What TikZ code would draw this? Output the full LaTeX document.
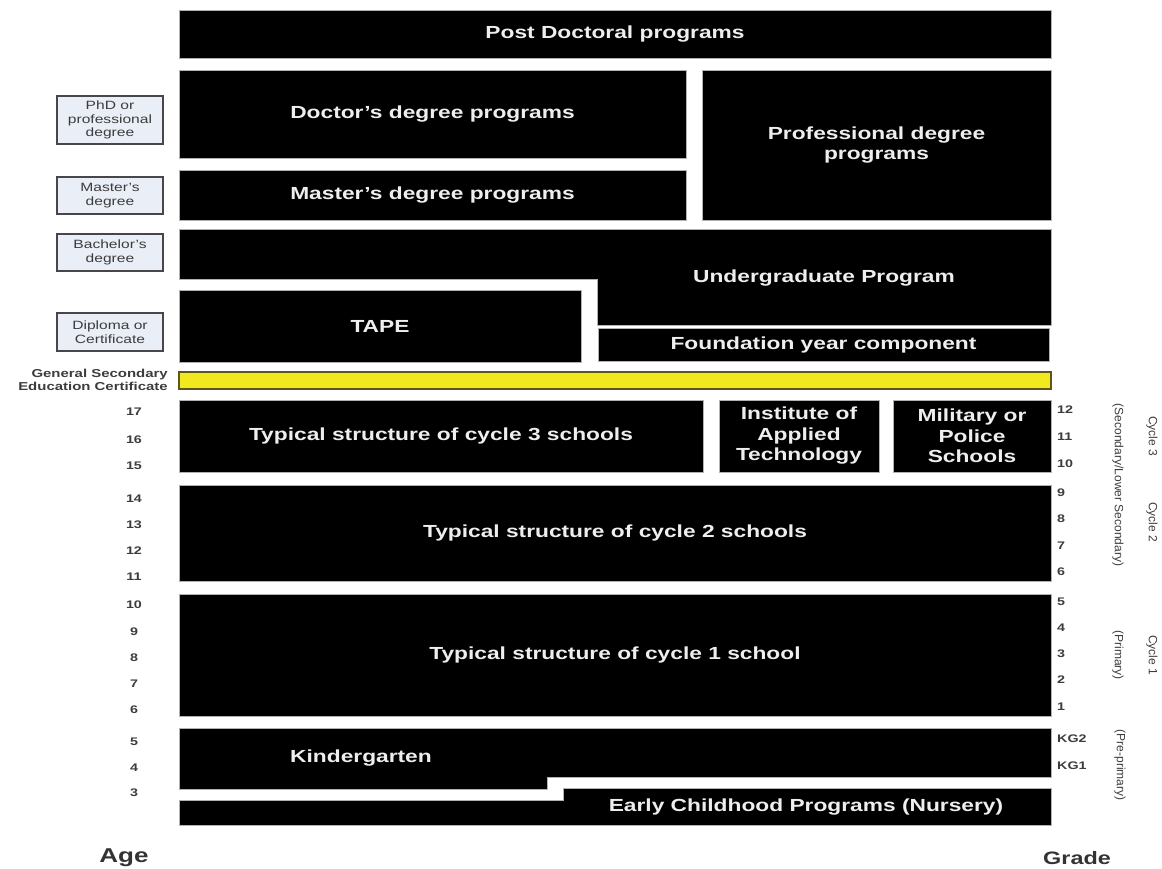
\documentclass[tikz,border=0pt]{standalone}
\usepackage{fontspec}
\setmainfont{Liberation Sans}[FakeStretch=1.3]
\newfontfamily\plainfont{Liberation Sans}
\definecolor{sidefill}{RGB}{233,238,247}
\definecolor{sidedraw}{RGB}{70,70,75}
\definecolor{ybar}{RGB}{241,233,30}
\definecolor{ybard}{RGB}{95,85,25}
\definecolor{boxtext}{RGB}{238,238,238}
\definecolor{graytext}{RGB}{60,60,60}
\newcommand\bx[6]{\node[blk, minimum width={(#4-#2)*1pt}, minimum height={(#5-#3)*1pt}] (#1) at ({(#2+#4)/2},{(#3+#5)/2}) {#6};}
\newcommand\sbx[6]{\node[side, minimum width={(#4-#2)*1pt}, minimum height={(#5-#3)*1pt}] (#1) at ({(#2+#4)/2},{(#3+#5)/2}) {#6};}
\tikzset{
  blk/.style={fill=black, draw=gray!60, line width=0.8pt, inner sep=0pt, align=center,
    text=boxtext, font=\bfseries\fontsize{17.5}{20.5}\selectfont},
  lbl/.style={text=boxtext, font=\bfseries\fontsize{17.5}{20.5}\selectfont, align=center, inner sep=0pt},
  side/.style={fill=sidefill, draw=sidedraw, line width=1.3pt, inner sep=0pt, align=center,
    text=graytext, font=\fontsize{12}{13.5}\selectfont},
  agenum/.style={font=\bfseries\fontsize{11}{12}\selectfont, text=graytext, inner sep=0pt},
  gradenum/.style={font=\bfseries\fontsize{11}{12}\selectfont, text=graytext, inner sep=0pt, anchor=west},
  rotlbl/.style={font=\plainfont\fontsize{12}{12}\selectfont, text=graytext, rotate=-90, inner sep=0pt},
  axis/.style={font=\bfseries\fontsize{18}{20}\selectfont, text=black!80, inner sep=0pt}
}
\begin{document}
\begin{tikzpicture}[x=1pt,y=-1pt]
\useasboundingbox (0,0) rectangle (1162,868);
% upper blocks
\bx{post}{179}{10}{1051}{58}{Post Doctoral programs}
\bx{doc}{179}{70}{686}{158}{Doctor's degree programs}
\bx{mas}{179}{170}{686}{220}{Master's degree programs}
\bx{prof}{702}{70}{1051}{220}{Professional degree\\programs}
\fill[black, draw=gray!60, line width=0.8pt] (179,229) -- (1051,229) -- (1051,325) -- (597,325) -- (597,279) -- (179,279) -- cycle;
\node[lbl] (under) at (824,278) {Undergraduate Program};
\bx{tape}{179}{290}{581}{362}{TAPE}
\bx{found}{598}{328}{1049}{361}{Foundation year component}
\node[fill=ybar, draw=ybard, line width=1.2pt, minimum width=872pt, minimum height=17pt, inner sep=0pt] (gsec) at (615,380.5) {};
% schools
\bx{cyc3}{179}{400}{703}{472}{Typical structure of cycle 3 schools}
\bx{iat}{719}{400}{879}{472}{Institute of\\Applied\\Technology}
\bx{mil}{893}{400}{1051}{472}{Military or\\Police\\Schools}
\bx{cyc2}{179}{485}{1051}{581}{Typical structure of cycle 2 schools}
\bx{cyc1}{179}{594}{1051}{716}{Typical structure of cycle 1 school}
\fill[black, draw=gray!60, line width=0.8pt] (179,728) -- (1051,728) -- (1051,777) -- (547,777) -- (547,789) -- (179,789) -- cycle;
\node[lbl] (kg) at (361,758) {Kindergarten};
\fill[black, draw=gray!60, line width=0.8pt] (563,788) -- (1051,788) -- (1051,825) -- (179,825) -- (179,800) -- (563,800) -- cycle;
\node[lbl] (early) at (806,807) {Early Childhood Programs (Nursery)};
% side degree boxes
\sbx{phd}{57}{96}{163}{144}{PhD or\\professional\\degree}
\sbx{msd}{57}{177}{163}{214}{Master’s\\degree}
\sbx{bad}{57}{234}{163}{271}{Bachelor’s\\degree}
\sbx{dip}{57}{313}{163}{351}{Diploma or\\Certificate}
\node[font=\bfseries\fontsize{11.5}{13}\selectfont, text=graytext, align=right, anchor=east, inner sep=0pt] (gsect) at (168,380) {General Secondary\\Education Certificate};
% ages
\foreach \a/\y in {17/412,16/440,15/466,14/499,13/525,12/551,11/577,10/605,9/632,8/658,7/684,6/710,5/742,4/768,3/793}
  \node[agenum] (age\a) at (134,\y) {\a};
% grades
\foreach \g/\y in {12/410,11/437,10/464,9/493,8/519,7/546,6/572,5/602,4/628,3/654,2/680,1/707,KG2/739,KG1/766}
  \node[gradenum] (gr\g) at (1057,\y) {\g};
% rotated cycle labels
\node[rotlbl] (c3) at (1152,436) {Cycle 3};
\node[rotlbl] (sec) at (1118,485) {(Secondary/Lower Secondary)};
\node[rotlbl] (c2) at (1152,522) {Cycle 2};
\node[rotlbl] (c1) at (1152,655) {Cycle 1};
\node[rotlbl] (prim) at (1118,655) {(Primary)};
\node[rotlbl] (pre) at (1120,765) {(Pre-primary)};
% axis labels
\node[axis, font=\bfseries\fontsize{20}{22}\selectfont] (agel) at (124,858) {Age};
\node[axis] (gradel) at (1077,858) {Grade};
\end{tikzpicture}
\end{document}
